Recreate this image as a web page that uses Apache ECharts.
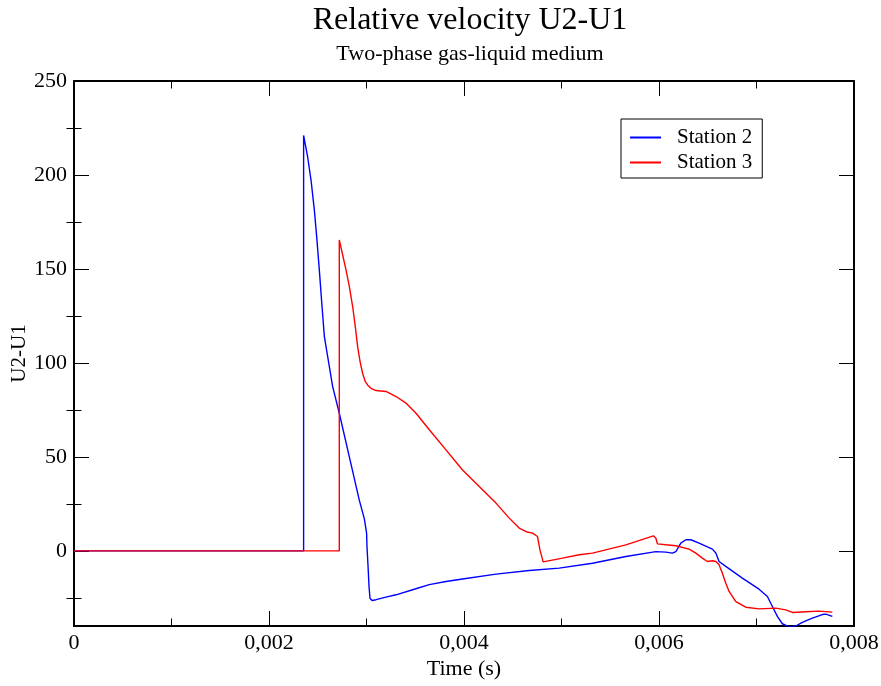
<!DOCTYPE html>
<html>
<head>
<meta charset="utf-8">
<script src="https://cdn.jsdelivr.net/npm/echarts@6/dist/echarts.min.js"></script>
<style>html,body{margin:0;padding:0;background:#fff}#c{width:881px;height:686px}</style>
</head>
<body>
<div id="c"></div>
<script>
const titleText = 'Relative velocity U2-U1';
const subtitleText = 'Two-phase gas-liquid medium';
const xName = 'Time (s)';
const yName = 'U2-U1';
const seriesNames = ['Station 2', 'Station 3'];

const station2 = [
  [0, 0], [0.002355, 0], [0.002355, 221], [0.002396, 209.7], [0.002431, 197.3], [0.002465, 181.4],
  [0.002489, 167.2], [0.002516, 149.5], [0.002544, 130], [0.002568, 114], [0.002601, 103.6],
  [0.002653, 87.4], [0.002721, 73.2], [0.002824, 50], [0.002926, 27], [0.002978, 17],
  [0.003001, 9.4], [0.003005, 2.3], [0.003016, -8.3], [0.003026, -19], [0.003036, -25.2],
  [0.003057, -26.4], [0.003098, -26], [0.003200, -24.6], [0.003303, -23.4], [0.003473, -20.7],
  [0.003644, -18], [0.003815, -16.3], [0.003985, -15], [0.004328, -12.4], [0.004669, -10.5],
  [0.004976, -9.2], [0.005318, -6.6], [0.005660, -3.0], [0.005968, -0.4], [0.006070, -0.7],
  [0.006138, -1.2], [0.006173, -0.4], [0.006224, 4.1], [0.006275, 5.9], [0.006327, 5.9],
  [0.006411, 4.1], [0.006548, 0.9], [0.006583, -1.2], [0.006616, -5.7], [0.006685, -8.3],
  [0.006855, -14.5], [0.007026, -20.4], [0.007112, -24.3], [0.007163, -29.6], [0.007214, -34.9],
  [0.007265, -38.8], [0.007334, -40.5], [0.007403, -40], [0.007470, -38.1], [0.007573, -35.8],
  [0.007675, -33.9], [0.007711, -33.7], [0.007778, -34.9]
];

const station3 = [
  [0, 0], [0.002721, 0], [0.002721, 165.4], [0.002790, 149.5], [0.002824, 140.6], [0.002858, 130],
  [0.002885, 119.3], [0.002909, 108.7], [0.002934, 100.7], [0.002960, 94.5], [0.002988, 90],
  [0.003011, 88.3], [0.003046, 86.5], [0.003098, 85.3], [0.003200, 84.8], [0.003303, 82.1],
  [0.003405, 78.6], [0.003508, 73.2], [0.003644, 64.4], [0.003815, 53.7], [0.003985, 43],
  [0.004156, 34.2], [0.004328, 25.4], [0.004464, 17.4], [0.004566, 12.1], [0.004648, 10],
  [0.004703, 9.4], [0.004754, 7.6], [0.004779, 0.5], [0.004812, -5.9], [0.005010, -3.9],
  [0.005181, -2.1], [0.005318, -1.2], [0.005660, 3.2], [0.005943, 8.0], [0.005968, 6.7],
  [0.005984, 3.7], [0.006070, 3.2], [0.006173, 2.7], [0.006309, 0.9], [0.006378, -1.2],
  [0.006445, -3.9], [0.006496, -5.7], [0.006548, -5.3], [0.006583, -5.7], [0.006616, -7.4],
  [0.006650, -11.9], [0.006685, -17.2], [0.006719, -21.6], [0.006788, -27], [0.006890, -30],
  [0.007026, -30.9], [0.007198, -30.5], [0.007300, -31.4], [0.007368, -32.8], [0.007505, -32.4],
  [0.007641, -32.1], [0.007778, -32.6]
];

const yMajorTicks = [0, 50, 100, 150, 200, 250];
const yMinorTicks = [-25, 25, 75, 125, 175, 225];

const font = 'Liberation Serif';
const fmtX = v => (Math.abs(v) < 1e-12 ? '0' : v.toFixed(3).replace('.', ','));

const chart = echarts.init(document.getElementById('c'));
const axisLineStyle = { color: '#000', width: 2 };
const tickLine = { color: '#000', width: 1 };
const yBase = { type: 'value', min: -40, max: 250, splitLine: { show: false } };
const xBase = { type: 'value', min: 0, max: 0.008, interval: 0.002, splitLine: { show: false } };

chart.setOption({
  animation: false,
  backgroundColor: '#fff',
  title: [
    { text: titleText, left: 465, top: 0, textAlign: 'center',
      textStyle: { fontFamily: font, fontSize: 32, fontWeight: 'normal', color: '#000' } },
    { text: subtitleText, left: 465, top: 38, textAlign: 'center',
      textStyle: { fontFamily: font, fontSize: 22, fontWeight: 'normal', color: '#000' } }
  ],
  legend: {
    orient: 'vertical', left: 621, top: 119,
    padding: [8, 10, 5, 8], itemGap: 4, itemWidth: 31, itemHeight: 14,
    borderColor: '#000', borderWidth: 1,
    itemStyle: { opacity: 0 },
    textStyle: { fontFamily: font, fontSize: 21, lineHeight: 19, color: '#000', padding: [0, 0, 0, 11] },
    data: seriesNames
  },
  grid: { left: 74, right: 27, top: 81, bottom: 60, outerBoundsMode: 'none', containLabel: false },
  xAxis: [
    Object.assign({}, xBase, {
      position: 'bottom',
      name: xName, nameLocation: 'middle', nameGap: 32, nameMoveOverlap: false,
      nameTextStyle: { fontFamily: font, fontSize: 22, color: '#000' },
      axisLine: { show: true, onZero: false, lineStyle: axisLineStyle },
      axisTick: { show: true, inside: true, length: 15, lineStyle: tickLine },
      minorTick: { show: true, splitNumber: 2, length: 7.5, lineStyle: tickLine },
      axisLabel: { fontFamily: font, fontSize: 22, color: '#000', margin: 6, formatter: fmtX }
    }),
    Object.assign({}, xBase, {
      position: 'top',
      axisLine: { show: true, onZero: false, lineStyle: axisLineStyle },
      axisTick: { show: true, inside: true, length: 15, lineStyle: tickLine },
      minorTick: { show: true, splitNumber: 2, length: 7.5, lineStyle: tickLine },
      axisLabel: { show: false }
    })
  ],
  yAxis: [
    Object.assign({}, yBase, {
      position: 'left',
      name: yName, nameLocation: 'middle', nameGap: 44, nameMoveOverlap: false,
      nameTextStyle: { fontFamily: font, fontSize: 21, color: '#000' },
      axisLine: { show: true, onZero: false, lineStyle: axisLineStyle },
      axisTick: { show: true, inside: true, length: 15, customValues: yMajorTicks, lineStyle: tickLine },
      axisLabel: { fontFamily: font, fontSize: 22, color: '#000', margin: 7, customValues: yMajorTicks }
    }),
    Object.assign({}, yBase, {
      position: 'left',
      axisLine: { show: false },
      axisTick: { show: true, inside: true, length: 7.5, customValues: yMinorTicks, lineStyle: tickLine },
      axisLabel: { show: false }
    }),
    Object.assign({}, yBase, {
      position: 'right',
      axisLine: { show: true, onZero: false, lineStyle: axisLineStyle },
      axisTick: { show: true, inside: true, length: 15, customValues: yMajorTicks, lineStyle: tickLine },
      axisLabel: { show: false }
    }),
    Object.assign({}, yBase, {
      position: 'right',
      axisLine: { show: false },
      axisTick: { show: true, inside: true, length: 7.5, customValues: yMinorTicks, lineStyle: tickLine },
      axisLabel: { show: false }
    })
  ],
  series: [
    { name: seriesNames[0], type: 'line', data: station2, symbol: 'none', showSymbol: false, clip: true,
      xAxisIndex: 0, yAxisIndex: 0,
      lineStyle: { color: '#0000ff', width: 1.4 }, itemStyle: { color: '#0000ff' } },
    { name: seriesNames[1], type: 'line', data: station3, symbol: 'none', showSymbol: false, clip: true,
      xAxisIndex: 0, yAxisIndex: 0,
      lineStyle: { color: '#ff0000', width: 1.4 }, itemStyle: { color: '#ff0000' } }
  ]
});
</script>
</body>
</html>
